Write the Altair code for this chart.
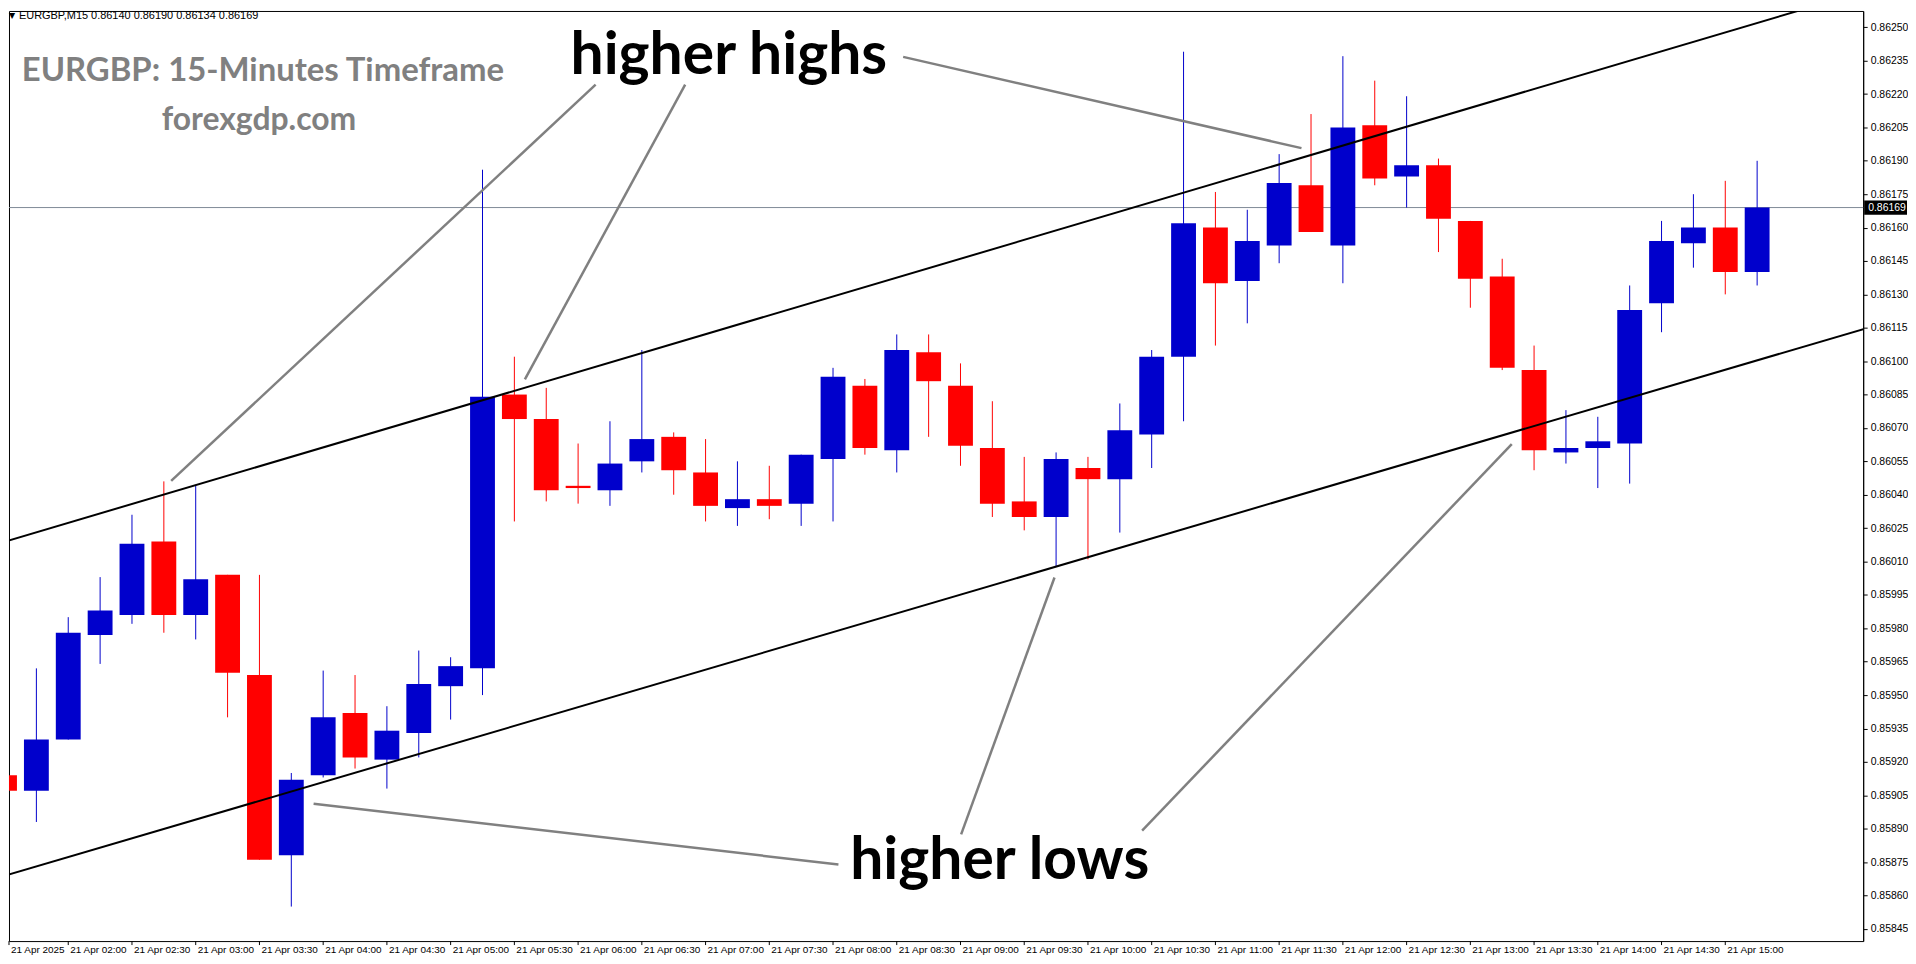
import altair as alt
import pandas as pd

# ---------------- data (EURGBP M15, 21 Apr 2025, 01:30 .. 15:15) ----------------
opens = [0.85914, 0.85907, 0.85930, 0.85977, 0.85986, 0.86019, 0.85986, 0.86004, 0.85959, 0.85878,
         0.85914, 0.85942, 0.85921, 0.85933, 0.85954, 0.85962, 0.86085, 0.86074, 0.86044, 0.86042,
         0.86055, 0.86066, 0.86050, 0.86034, 0.86038, 0.86036, 0.86056, 0.86089, 0.86060, 0.86104,
         0.86089, 0.86061, 0.86037, 0.86030, 0.86052, 0.86047, 0.86067, 0.86102, 0.86160, 0.86136,
         0.86152, 0.86179, 0.86152, 0.86206, 0.86183, 0.86188, 0.86163, 0.86138, 0.86096, 0.86059,
         0.86061, 0.86063, 0.86126, 0.86153, 0.86160, 0.86140]
highs = [0.85917, 0.85962, 0.85985, 0.86003, 0.86031, 0.86046, 0.86044, 0.86004, 0.86004, 0.85915,
         0.85961, 0.85959, 0.85945, 0.85970, 0.85967, 0.86186, 0.86102, 0.86088, 0.86063, 0.86073,
         0.86105, 0.86068, 0.86065, 0.86055, 0.86053, 0.86058, 0.86097, 0.86092, 0.86112, 0.86112,
         0.86099, 0.86082, 0.86057, 0.86059, 0.86057, 0.86081, 0.86105, 0.86239, 0.86176, 0.86168,
         0.86193, 0.86211, 0.86237, 0.86226, 0.86219, 0.86191, 0.86163, 0.86146, 0.86107, 0.86078,
         0.86075, 0.86134, 0.86163, 0.86175, 0.86181, 0.86190]
lows = [0.85862, 0.85893, 0.85930, 0.85964, 0.85982, 0.85978, 0.85975, 0.85940, 0.85876, 0.85855,
        0.85913, 0.85917, 0.85908, 0.85922, 0.85939, 0.85950, 0.86028, 0.86037, 0.86036, 0.86035,
        0.86050, 0.86040, 0.86028, 0.86026, 0.86029, 0.86026, 0.86028, 0.86058, 0.86050, 0.86066,
        0.86053, 0.86030, 0.86024, 0.86008, 0.86011, 0.86023, 0.86052, 0.86073, 0.86107, 0.86117,
        0.86144, 0.86158, 0.86135, 0.86179, 0.86169, 0.86149, 0.86124, 0.86096, 0.86051, 0.86054,
        0.86043, 0.86045, 0.86113, 0.86142, 0.86130, 0.86134]
closes = [0.85907, 0.85930, 0.85978, 0.85988, 0.86018, 0.85986, 0.86002, 0.85960, 0.85876, 0.85912,
          0.85940, 0.85922, 0.85934, 0.85955, 0.85963, 0.86084, 0.86074, 0.86042, 0.86043, 0.86054,
          0.86065, 0.86051, 0.86035, 0.86038, 0.86035, 0.86058, 0.86093, 0.86061, 0.86105, 0.86091,
          0.86062, 0.86036, 0.86030, 0.86056, 0.86047, 0.86069, 0.86102, 0.86162, 0.86135, 0.86154,
          0.86180, 0.86158, 0.86205, 0.86182, 0.86188, 0.86164, 0.86137, 0.86097, 0.86060, 0.86061,
          0.86064, 0.86123, 0.86154, 0.86160, 0.86140, 0.86169]

tick_bars = [0, 2, 4, 6, 8, 10, 12, 14, 16, 18, 20, 22, 24, 26, 28, 30, 32, 34, 36, 38,
             40, 42, 44, 46, 48, 50, 52, 54]
tick_labels = ["21 Apr 2025", "21 Apr 02:00", "21 Apr 02:30", "21 Apr 03:00", "21 Apr 03:30",
               "21 Apr 04:00", "21 Apr 04:30", "21 Apr 05:00", "21 Apr 05:30", "21 Apr 06:00",
               "21 Apr 06:30", "21 Apr 07:00", "21 Apr 07:30", "21 Apr 08:00", "21 Apr 08:30",
               "21 Apr 09:00", "21 Apr 09:30", "21 Apr 10:00", "21 Apr 10:30", "21 Apr 11:00",
               "21 Apr 11:30", "21 Apr 12:00", "21 Apr 12:30", "21 Apr 13:00", "21 Apr 13:30",
               "21 Apr 14:00", "21 Apr 14:30", "21 Apr 15:00"]
price_ticks = [0.85845, 0.85860, 0.85875, 0.85890, 0.85905, 0.85920, 0.85935, 0.85950, 0.85965,
               0.85980, 0.85995, 0.86010, 0.86025, 0.86040, 0.86055, 0.86070, 0.86085, 0.86100,
               0.86115, 0.86130, 0.86145, 0.86160, 0.86175, 0.86190, 0.86205, 0.86220, 0.86235,
               0.86250]
bid_price = 0.86169
bid_label = "0.86169"

# channel lines (bar index, price)
channel_x1 = [0.0, 0.0]
channel_p1 = [0.860189, 0.858688]
channel_x2 = [60.0, 60.0]
channel_p2 = [0.862731, 0.861214]

# annotation pointer lines (bar index, price)
arrow_x1 = [18.55, 21.36, 28.20, 26.17, 30.02, 35.70]
arrow_p1 = [0.862242, 0.862242, 0.862367, 0.858739, 0.858874, 0.858891]
arrow_x2 = [5.23, 16.33, 40.70, 9.70, 32.95, 47.30]
arrow_p2 = [0.860462, 0.860918, 0.861957, 0.859012, 0.860028, 0.860627]

note_text = ["higher highs", "higher lows"]
note_x = [22.73, 31.23]
note_p = [0.862291, 0.858672]

title_text = ["EURGBP: 15-Minutes Timeframe"]
site_text = ["forexgdp.com"]
header_text = ["EURGBP,M15  0.86140 0.86190 0.86134 0.86169"]

# ---------------- chart ----------------
W, H = 1862, 934
XMIN, XMAX = 0.1406, 58.328
YMIN, YMAX = 0.858395, 0.862573

xs = alt.Scale(domain=[XMIN, XMAX], nice=False, zero=False)
ys = alt.Scale(domain=[YMIN, YMAX], nice=False, zero=False)
yaxis = alt.Axis(orient="right", values=price_ticks, format=".5f", title=None, grid=False,
                 domainColor="black", tickColor="black", tickSize=4, labelColor="black",
                 labelFont="Liberation Sans", labelFontSize=10.5, labelPadding=3,
                 domainWidth=1, tickWidth=1, labelOverlap=False)


def X(f):
    return alt.X(f, type="quantitative", scale=xs, axis=None)


def Y(f):
    return alt.Y(f, type="quantitative", scale=ys, axis=yaxis)


candles = pd.DataFrame({"i": list(range(len(opens))), "o": opens, "h": highs, "l": lows, "c": closes})
candles["dir"] = ["up" if c >= o else "down" for o, c in zip(opens, closes)]
candles["x1"] = candles["i"] - 0.39
candles["x2"] = candles["i"] + 0.39

color = alt.Color("dir:N", scale=alt.Scale(domain=["up", "down"], range=["#0000CC", "#FF0000"]),
                  legend=None)

bid_df = pd.DataFrame({"p": [bid_price], "lo": [bid_price - 0.000032], "hi": [bid_price + 0.000032],
                       "lab": [bid_label]})
bid_line = alt.Chart(bid_df).mark_rule(color="#7f8a96", strokeWidth=1).encode(y=Y("p"))

wicks = alt.Chart(candles).mark_rule(strokeWidth=1, clip=True).encode(
    x=X("i"), y=Y("l"), y2="h", color=color)
bodies = alt.Chart(candles).mark_rect(clip=True).encode(
    x=X("x1"), x2="x2", y=Y("o"), y2="c", color=color)

chan_df = pd.DataFrame({"x1": channel_x1, "p1": channel_p1, "x2": channel_x2, "p2": channel_p2})
channel = alt.Chart(chan_df).mark_rule(color="black", strokeWidth=2, clip=True).encode(
    x=X("x1"), x2="x2", y=Y("p1"), y2="p2")

arr_df = pd.DataFrame({"x1": arrow_x1, "p1": arrow_p1, "x2": arrow_x2, "p2": arrow_p2})
arrows = alt.Chart(arr_df).mark_rule(color="#808080", strokeWidth=2.5, clip=True).encode(
    x=X("x1"), x2="x2", y=Y("p1"), y2="p2")

note_df = pd.DataFrame({"t": note_text, "x": note_x, "p": note_p})
notes = alt.Chart(note_df).mark_text(font="Lato", fontWeight="bold", fontSize=59, color="black",
                                      align="center", baseline="alphabetic").encode(
    x=X("x"), y=Y("p"), text="t")

title = alt.Chart(pd.DataFrame({"t": title_text})).mark_text(
    font="Lato", fontWeight="bold", fontSize=33, color="#808080", align="center",
    baseline="alphabetic").encode(x=alt.value(255), y=alt.value(70), text="t")
site = alt.Chart(pd.DataFrame({"t": site_text})).mark_text(
    font="Lato", fontWeight="bold", fontSize=32, color="#808080", align="center",
    baseline="alphabetic").encode(x=alt.value(251), y=alt.value(120), text="t")
header = alt.Chart(pd.DataFrame({"t": header_text})).mark_text(
    font="Liberation Sans", fontSize=11, color="black", align="left",
    baseline="middle").encode(x=alt.value(10), y=alt.value(5), text="t")
tri = alt.Chart(pd.DataFrame({"t": ["\u25bc"]})).mark_text(
    font="DejaVu Sans", fontSize=8, color="black", align="left",
    baseline="middle").encode(x=alt.value(0), y=alt.value(5), text="t")

ticks_df = pd.DataFrame({"ti": [max(t, XMIN) for t in tick_bars], "lab": tick_labels})
xticks = alt.Chart(ticks_df).mark_rule(color="black", strokeWidth=1).encode(
    x=X("ti"), y=alt.value(H), y2=alt.value(H + 4))
xlabels = alt.Chart(ticks_df).mark_text(font="Liberation Sans", fontSize=10, color="black",
                                         align="left", baseline="middle", dx=2).encode(
    x=X("ti"), y=alt.value(H + 9), text="lab")

bid_box = alt.Chart(bid_df).mark_rect(color="black").encode(
    x=alt.value(W + 1), x2=alt.value(W + 44), y=Y("lo"), y2="hi")
bid_txt = alt.Chart(bid_df).mark_text(font="Liberation Sans", fontSize=10.5, color="white",
                                       align="left", baseline="middle").encode(
    x=alt.value(W + 5), y=Y("p"), text="lab")

chart = alt.layer(
    bid_line, wicks, bodies, channel, arrows, notes, title, site, header, tri,
    xticks, xlabels, bid_box, bid_txt
).properties(width=W, height=H, padding=0).configure_view(stroke="black", strokeWidth=1)

chart.save("out.html", embed_options={"renderer": "svg", "actions": False})
